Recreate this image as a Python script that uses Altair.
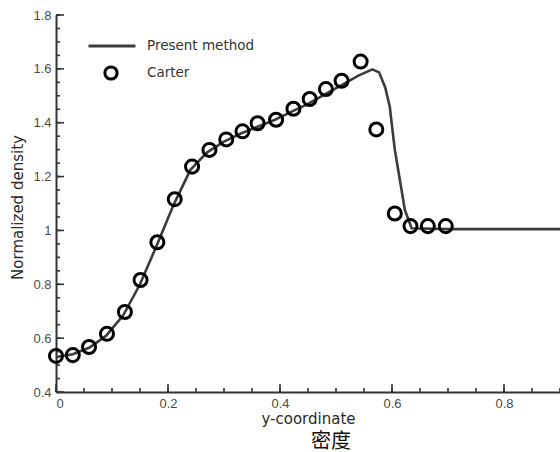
import altair as alt
import pandas as pd

# Present method: computed density profile
line_x = [0.0, 0.03, 0.06, 0.09, 0.12, 0.15, 0.18, 0.21, 0.24, 0.27, 0.30, 0.33,
          0.36, 0.39, 0.42, 0.45, 0.48, 0.51, 0.54, 0.565, 0.577, 0.588, 0.596,
          0.605, 0.623, 0.635, 0.70, 0.80, 1.0]
line_y = [0.53, 0.54, 0.565, 0.61, 0.685, 0.80, 0.945, 1.095, 1.225, 1.29, 1.33,
          1.36, 1.385, 1.41, 1.44, 1.47, 1.505, 1.54, 1.575, 1.598, 1.587, 1.53,
          1.459, 1.30, 1.076, 1.008, 1.005, 1.005, 1.005]

# Carter: reference data points
carter_x = [0.0, 0.030, 0.059, 0.091, 0.123, 0.151, 0.181, 0.212, 0.243, 0.274,
            0.304, 0.333, 0.360, 0.393, 0.424, 0.453, 0.482, 0.510, 0.544, 0.572,
            0.605, 0.633, 0.664, 0.696]
carter_y = [0.534, 0.537, 0.567, 0.616, 0.697, 0.816, 0.956, 1.116, 1.237, 1.299,
            1.338, 1.368, 1.398, 1.411, 1.452, 1.488, 1.525, 1.556, 1.627, 1.375,
            1.063, 1.016, 1.016, 1.016]

# axis tick positions
x_major = [0, 0.2, 0.4, 0.6, 0.8]
y_major = [0.4, 0.6, 0.8, 1.0, 1.2, 1.4, 1.6, 1.8]
x_minor = [round(i * 0.05, 2) for i in range(0, 19)]
y_minor = [round(0.4 + i * 0.05, 2) for i in range(0, 29)]

W, H = 504, 377
FONT = "Liberation Sans"
TITLE_FONT = "DejaVu Sans"
TICK_COLOR = "#333333"

line_df = pd.DataFrame({"y_coord": line_x, "density": line_y,
                        "method": ["Present method"] * len(line_x)})
pts_df = pd.DataFrame({"y_coord": carter_x, "density": carter_y,
                       "source": ["Carter"] * len(carter_x)})

x_scale = alt.Scale(domain=[0, 0.9], nice=False, zero=False)
y_scale = alt.Scale(domain=[0.4, 1.8], nice=False, zero=False)

label_style = dict(labelFont=FONT, labelFontSize=13, labelColor="#4a4a4a",
                   titleFont=TITLE_FONT, titleFontSize=15, titleColor="#2a2a2a",
                   titleFontWeight="normal", domainColor="#333333",
                   domainWidth=2, grid=False, ticks=False, tickSize=0)

line = alt.Chart(line_df).mark_line(clip=True, strokeWidth=2.6).encode(
    x=alt.X("y_coord:Q", scale=x_scale,
            axis=alt.Axis(orient="bottom", values=x_major, format="~g",
                          labelPadding=5, title="y-coordinate", titlePadding=1,
                          **label_style)),
    y=alt.Y("density:Q", scale=y_scale,
            axis=alt.Axis(orient="left", values=y_major, format="~g",
                          labelPadding=5, title="Normalized density",
                          titlePadding=7, titleY=192, **label_style)),
    color=alt.Color("method:N", scale=alt.Scale(range=["#3c3c3c"]),
                    legend=alt.Legend(orient="none", legendX=31, legendY=6,
                                      title=None, symbolType="stroke",
                                      symbolSize=2200, symbolStrokeWidth=3,
                                      labelFont=TITLE_FONT, labelFontSize=13.5,
                                      labelColor="#333333", labelOffset=10)),
)

pts = alt.Chart(pts_df).mark_point(shape="circle", filled=False, size=170,
                                   strokeWidth=3, color="black", opacity=1).encode(
    x=alt.X("y_coord:Q", scale=x_scale),
    y=alt.Y("density:Q", scale=y_scale),
    shape=alt.Shape("source:N", scale=alt.Scale(range=["circle"]),
                    legend=alt.Legend(orient="none", legendX=47, legendY=50,
                                      title=None, symbolSize=150,
                                      symbolStrokeWidth=3,
                                      symbolStrokeColor="black",
                                      symbolFillColor="transparent",
                                      labelFont=TITLE_FONT, labelFontSize=13.5,
                                      labelColor="#333333", labelOffset=28)),
)


def x_ticks(values, length):
    # inward ticks standing on the bottom frame line
    df = pd.DataFrame({"v": values})
    return alt.Chart(df).mark_rule(color=TICK_COLOR, strokeWidth=1.6).encode(
        x=alt.X("v:Q", scale=x_scale),
        y=alt.value(H), y2=alt.value(H - length),
    )


def y_ticks(values, length):
    # inward ticks pointing right from the left frame line
    df = pd.DataFrame({"v": values})
    return alt.Chart(df).mark_rule(color=TICK_COLOR, strokeWidth=1.6).encode(
        y=alt.Y("v:Q", scale=y_scale),
        x=alt.value(0), x2=alt.value(length),
    )


# the first layer's axes are the ones kept for the shared scales
chart = alt.layer(
    line, pts,
    x_ticks(x_minor, 4), x_ticks(x_major, 8),
    y_ticks(y_minor, 4), y_ticks(y_major, 8),
).resolve_legend(color="independent", shape="independent").properties(
    width=W, height=H,
    autosize=alt.AutoSizeParams(type="none"),
    padding={"left": 56, "top": 15, "right": 0, "bottom": 60},
    background="white",
    title=alt.TitleParams("密度", orient="bottom", anchor="middle", dx=23,
                          offset=6, font="Noto Sans CJK SC", fontSize=20,
                          fontWeight="normal", color="#111111"),
).configure_view(stroke=None)

chart.save("out.html", embed_options={"renderer": "svg", "actions": False})
